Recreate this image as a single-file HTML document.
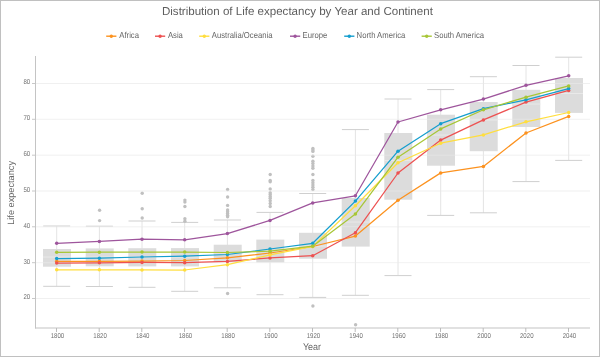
<!DOCTYPE html>
<html><head><meta charset="utf-8"><style>
html,body{margin:0;padding:0;background:#fff;}
.wrap{position:relative;width:600px;height:357px;overflow:hidden;}
svg{position:absolute;left:0;top:0;will-change:transform;}
text{font-family:"Liberation Sans",sans-serif;text-rendering:geometricPrecision;}
.ttl{font-size:11.55px;fill:#5e5e5e;}
.lg{font-size:8.6px;fill:#666;}
.ax{font-size:9.2px;fill:#666;}
.ax2{font-size:9.7px;fill:#666;}
.tk{font-size:7px;fill:#707070;}
</style></head><body><div class="wrap">
<svg width="600" height="357" viewBox="0 0 600 357">
<rect x="0" y="0" width="600" height="357" fill="#fff"/>
<g transform="translate(30.2,299.40) scale(0.87,1)"><text x="0" y="0" class="tk" text-anchor="end">20</text></g>
<line x1="32" x2="35" y1="298.5" y2="298.5" stroke="#c8c8c8" stroke-width="1"/>
<g transform="translate(30.2,263.57) scale(0.87,1)"><text x="0" y="0" class="tk" text-anchor="end">30</text></g>
<line x1="32" x2="35" y1="262.7" y2="262.7" stroke="#c8c8c8" stroke-width="1"/>
<g transform="translate(30.2,227.73) scale(0.87,1)"><text x="0" y="0" class="tk" text-anchor="end">40</text></g>
<line x1="32" x2="35" y1="226.8" y2="226.8" stroke="#c8c8c8" stroke-width="1"/>
<g transform="translate(30.2,191.90) scale(0.87,1)"><text x="0" y="0" class="tk" text-anchor="end">50</text></g>
<line x1="32" x2="35" y1="191.0" y2="191.0" stroke="#c8c8c8" stroke-width="1"/>
<g transform="translate(30.2,156.07) scale(0.87,1)"><text x="0" y="0" class="tk" text-anchor="end">60</text></g>
<line x1="32" x2="35" y1="155.2" y2="155.2" stroke="#c8c8c8" stroke-width="1"/>
<g transform="translate(30.2,120.24) scale(0.87,1)"><text x="0" y="0" class="tk" text-anchor="end">70</text></g>
<line x1="32" x2="35" y1="119.3" y2="119.3" stroke="#c8c8c8" stroke-width="1"/>
<g transform="translate(30.2,84.40) scale(0.87,1)"><text x="0" y="0" class="tk" text-anchor="end">80</text></g>
<line x1="32" x2="35" y1="83.5" y2="83.5" stroke="#c8c8c8" stroke-width="1"/>
<line x1="56.7" x2="56.7" y1="226.0" y2="286.3" stroke="#e4e4e4" stroke-width="1"/>
<line x1="43.2" x2="70.2" y1="226.0" y2="226.0" stroke="#cfcfcf" stroke-width="1"/>
<line x1="43.2" x2="70.2" y1="286.3" y2="286.3" stroke="#cfcfcf" stroke-width="1"/>
<rect x="43.0" y="249.0" width="28" height="17.7" fill="#dcdcdc"/>
<line x1="43.0" x2="71.0" y1="257.0" y2="257.0" stroke="#e9e9e9" stroke-width="1"/>
<line x1="99.4" x2="99.4" y1="226.2" y2="286.5" stroke="#e4e4e4" stroke-width="1"/>
<line x1="85.9" x2="112.9" y1="226.2" y2="226.2" stroke="#cfcfcf" stroke-width="1"/>
<line x1="85.9" x2="112.9" y1="286.5" y2="286.5" stroke="#cfcfcf" stroke-width="1"/>
<rect x="85.7" y="248.4" width="28" height="17.9" fill="#dcdcdc"/>
<line x1="85.7" x2="113.7" y1="257.0" y2="257.0" stroke="#e9e9e9" stroke-width="1"/>
<circle cx="99.6" cy="210.3" r="1.7" fill="#c0c0c0"/>
<circle cx="99.6" cy="220.6" r="1.7" fill="#c0c0c0"/>
<line x1="142.0" x2="142.0" y1="221.0" y2="287.3" stroke="#e4e4e4" stroke-width="1"/>
<line x1="128.5" x2="155.5" y1="221.0" y2="221.0" stroke="#cfcfcf" stroke-width="1"/>
<line x1="128.5" x2="155.5" y1="287.3" y2="287.3" stroke="#cfcfcf" stroke-width="1"/>
<rect x="128.3" y="248.2" width="28" height="18.2" fill="#dcdcdc"/>
<line x1="128.3" x2="156.3" y1="257.0" y2="257.0" stroke="#e9e9e9" stroke-width="1"/>
<circle cx="142.2" cy="193.3" r="1.7" fill="#c0c0c0"/>
<circle cx="142.2" cy="208.7" r="1.7" fill="#c0c0c0"/>
<circle cx="142.2" cy="218.0" r="1.7" fill="#c0c0c0"/>
<line x1="184.7" x2="184.7" y1="222.4" y2="291.3" stroke="#e4e4e4" stroke-width="1"/>
<line x1="171.2" x2="198.2" y1="222.4" y2="222.4" stroke="#cfcfcf" stroke-width="1"/>
<line x1="171.2" x2="198.2" y1="291.3" y2="291.3" stroke="#cfcfcf" stroke-width="1"/>
<rect x="171.0" y="248.1" width="28" height="18.3" fill="#dcdcdc"/>
<line x1="171.0" x2="199.0" y1="257.0" y2="257.0" stroke="#e9e9e9" stroke-width="1"/>
<circle cx="184.9" cy="200.1" r="1.7" fill="#c0c0c0"/>
<circle cx="184.9" cy="202.1" r="1.7" fill="#c0c0c0"/>
<circle cx="184.9" cy="206.5" r="1.7" fill="#c0c0c0"/>
<circle cx="184.9" cy="218.8" r="1.7" fill="#c0c0c0"/>
<circle cx="184.9" cy="221.2" r="1.7" fill="#c0c0c0"/>
<line x1="227.4" x2="227.4" y1="220.0" y2="287.8" stroke="#e4e4e4" stroke-width="1"/>
<line x1="213.9" x2="240.9" y1="220.0" y2="220.0" stroke="#cfcfcf" stroke-width="1"/>
<line x1="213.9" x2="240.9" y1="287.8" y2="287.8" stroke="#cfcfcf" stroke-width="1"/>
<rect x="213.7" y="244.7" width="28" height="17.3" fill="#dcdcdc"/>
<line x1="213.7" x2="241.7" y1="253.0" y2="253.0" stroke="#e9e9e9" stroke-width="1"/>
<circle cx="227.6" cy="189.5" r="1.7" fill="#c0c0c0"/>
<circle cx="227.6" cy="197.0" r="1.7" fill="#c0c0c0"/>
<circle cx="227.6" cy="205.4" r="1.7" fill="#c0c0c0"/>
<circle cx="227.6" cy="210.0" r="1.7" fill="#c0c0c0"/>
<circle cx="227.6" cy="211.8" r="1.7" fill="#c0c0c0"/>
<circle cx="227.6" cy="213.5" r="1.7" fill="#c0c0c0"/>
<circle cx="227.6" cy="215.2" r="1.7" fill="#c0c0c0"/>
<circle cx="227.6" cy="216.8" r="1.7" fill="#c0c0c0"/>
<circle cx="227.6" cy="293.5" r="1.7" fill="#c0c0c0"/>
<line x1="270.0" x2="270.0" y1="212.4" y2="294.7" stroke="#e4e4e4" stroke-width="1"/>
<line x1="256.5" x2="283.5" y1="212.4" y2="212.4" stroke="#cfcfcf" stroke-width="1"/>
<line x1="256.5" x2="283.5" y1="294.7" y2="294.7" stroke="#cfcfcf" stroke-width="1"/>
<rect x="256.3" y="239.6" width="28" height="22.8" fill="#dcdcdc"/>
<line x1="256.3" x2="284.3" y1="251.0" y2="251.0" stroke="#e9e9e9" stroke-width="1"/>
<circle cx="270.2" cy="174.5" r="1.7" fill="#c0c0c0"/>
<circle cx="270.2" cy="180.4" r="1.7" fill="#c0c0c0"/>
<circle cx="270.2" cy="181.7" r="1.7" fill="#c0c0c0"/>
<circle cx="270.2" cy="189.0" r="1.7" fill="#c0c0c0"/>
<circle cx="270.2" cy="192.7" r="1.7" fill="#c0c0c0"/>
<circle cx="270.2" cy="194.5" r="1.7" fill="#c0c0c0"/>
<circle cx="270.2" cy="196.4" r="1.7" fill="#c0c0c0"/>
<circle cx="270.2" cy="198.2" r="1.7" fill="#c0c0c0"/>
<circle cx="270.2" cy="200.7" r="1.7" fill="#c0c0c0"/>
<circle cx="270.2" cy="203.5" r="1.7" fill="#c0c0c0"/>
<circle cx="270.2" cy="206.5" r="1.7" fill="#c0c0c0"/>
<line x1="312.7" x2="312.7" y1="193.5" y2="297.4" stroke="#e4e4e4" stroke-width="1"/>
<line x1="299.2" x2="326.2" y1="193.5" y2="193.5" stroke="#cfcfcf" stroke-width="1"/>
<line x1="299.2" x2="326.2" y1="297.4" y2="297.4" stroke="#cfcfcf" stroke-width="1"/>
<rect x="299.0" y="232.8" width="28" height="25.9" fill="#dcdcdc"/>
<line x1="299.0" x2="327.0" y1="246.0" y2="246.0" stroke="#e9e9e9" stroke-width="1"/>
<circle cx="312.9" cy="148.5" r="1.7" fill="#c0c0c0"/>
<circle cx="312.9" cy="150.0" r="1.7" fill="#c0c0c0"/>
<circle cx="312.9" cy="151.4" r="1.7" fill="#c0c0c0"/>
<circle cx="312.9" cy="156.3" r="1.7" fill="#c0c0c0"/>
<circle cx="312.9" cy="161.2" r="1.7" fill="#c0c0c0"/>
<circle cx="312.9" cy="163.5" r="1.7" fill="#c0c0c0"/>
<circle cx="312.9" cy="165.9" r="1.7" fill="#c0c0c0"/>
<circle cx="312.9" cy="168.2" r="1.7" fill="#c0c0c0"/>
<circle cx="312.9" cy="174.5" r="1.7" fill="#c0c0c0"/>
<circle cx="312.9" cy="180.4" r="1.7" fill="#c0c0c0"/>
<circle cx="312.9" cy="182.7" r="1.7" fill="#c0c0c0"/>
<circle cx="312.9" cy="185.0" r="1.7" fill="#c0c0c0"/>
<circle cx="312.9" cy="187.3" r="1.7" fill="#c0c0c0"/>
<circle cx="312.9" cy="189.6" r="1.7" fill="#c0c0c0"/>
<circle cx="312.9" cy="306.0" r="1.7" fill="#c0c0c0"/>
<line x1="355.4" x2="355.4" y1="129.6" y2="295.3" stroke="#e4e4e4" stroke-width="1"/>
<line x1="341.9" x2="368.9" y1="129.6" y2="129.6" stroke="#cfcfcf" stroke-width="1"/>
<line x1="341.9" x2="368.9" y1="295.3" y2="295.3" stroke="#cfcfcf" stroke-width="1"/>
<rect x="341.7" y="198.0" width="28" height="48.6" fill="#dcdcdc"/>
<line x1="341.7" x2="369.7" y1="222.0" y2="222.0" stroke="#e9e9e9" stroke-width="1"/>
<circle cx="355.6" cy="324.8" r="1.7" fill="#c0c0c0"/>
<line x1="398.0" x2="398.0" y1="99.0" y2="275.6" stroke="#e4e4e4" stroke-width="1"/>
<line x1="384.5" x2="411.5" y1="99.0" y2="99.0" stroke="#cfcfcf" stroke-width="1"/>
<line x1="384.5" x2="411.5" y1="275.6" y2="275.6" stroke="#cfcfcf" stroke-width="1"/>
<rect x="384.3" y="133.0" width="28" height="66.7" fill="#dcdcdc"/>
<line x1="384.3" x2="412.3" y1="160.6" y2="160.6" stroke="#e9e9e9" stroke-width="1"/>
<line x1="440.7" x2="440.7" y1="89.6" y2="215.4" stroke="#e4e4e4" stroke-width="1"/>
<line x1="427.2" x2="454.2" y1="89.6" y2="89.6" stroke="#cfcfcf" stroke-width="1"/>
<line x1="427.2" x2="454.2" y1="215.4" y2="215.4" stroke="#cfcfcf" stroke-width="1"/>
<rect x="427.0" y="114.7" width="28" height="51.0" fill="#dcdcdc"/>
<line x1="427.0" x2="455.0" y1="135.0" y2="135.0" stroke="#e9e9e9" stroke-width="1"/>
<line x1="483.4" x2="483.4" y1="76.7" y2="212.8" stroke="#e4e4e4" stroke-width="1"/>
<line x1="469.9" x2="496.9" y1="76.7" y2="76.7" stroke="#cfcfcf" stroke-width="1"/>
<line x1="469.9" x2="496.9" y1="212.8" y2="212.8" stroke="#cfcfcf" stroke-width="1"/>
<rect x="469.7" y="102.0" width="28" height="49.2" fill="#dcdcdc"/>
<line x1="469.7" x2="497.7" y1="120.0" y2="120.0" stroke="#e9e9e9" stroke-width="1"/>
<line x1="526.0" x2="526.0" y1="65.5" y2="181.6" stroke="#e4e4e4" stroke-width="1"/>
<line x1="512.5" x2="539.5" y1="65.5" y2="65.5" stroke="#cfcfcf" stroke-width="1"/>
<line x1="512.5" x2="539.5" y1="181.6" y2="181.6" stroke="#cfcfcf" stroke-width="1"/>
<rect x="512.3" y="89.8" width="28" height="37.2" fill="#dcdcdc"/>
<line x1="512.3" x2="540.3" y1="104.0" y2="104.0" stroke="#e9e9e9" stroke-width="1"/>
<line x1="568.7" x2="568.7" y1="57.2" y2="160.4" stroke="#e4e4e4" stroke-width="1"/>
<line x1="555.2" x2="582.2" y1="57.2" y2="57.2" stroke="#cfcfcf" stroke-width="1"/>
<line x1="555.2" x2="582.2" y1="160.4" y2="160.4" stroke="#cfcfcf" stroke-width="1"/>
<rect x="555.0" y="78.0" width="28" height="34.9" fill="#dcdcdc"/>
<line x1="555.0" x2="583.0" y1="93.5" y2="93.5" stroke="#e9e9e9" stroke-width="1"/>
<line x1="35" x2="590" y1="298.5" y2="298.5" stroke="#e8e8e8" stroke-width="0.8" opacity="0.8"/>
<line x1="35" x2="590" y1="262.7" y2="262.7" stroke="#e8e8e8" stroke-width="0.8" opacity="0.8"/>
<line x1="35" x2="590" y1="226.8" y2="226.8" stroke="#e8e8e8" stroke-width="0.8" opacity="0.8"/>
<line x1="35" x2="590" y1="191.0" y2="191.0" stroke="#e8e8e8" stroke-width="0.8" opacity="0.8"/>
<line x1="35" x2="590" y1="155.2" y2="155.2" stroke="#e8e8e8" stroke-width="0.8" opacity="0.8"/>
<line x1="35" x2="590" y1="119.3" y2="119.3" stroke="#e8e8e8" stroke-width="0.8" opacity="0.8"/>
<line x1="35" x2="590" y1="83.5" y2="83.5" stroke="#e8e8e8" stroke-width="0.8" opacity="0.8"/>
<line x1="35.5" x2="35.5" y1="56" y2="328.5" stroke="#c4c4c4" stroke-width="1"/>
<line x1="35" x2="590" y1="328" y2="328" stroke="#c4c4c4" stroke-width="1.2"/>
<line x1="56.5" x2="56.5" y1="328" y2="332" stroke="#bbb" stroke-width="1"/>
<g transform="translate(57.40,338.1) scale(0.87,1)"><text x="0" y="0" class="tk" text-anchor="middle">1800</text></g>
<line x1="99.2" x2="99.2" y1="328" y2="332" stroke="#bbb" stroke-width="1"/>
<g transform="translate(100.07,338.1) scale(0.87,1)"><text x="0" y="0" class="tk" text-anchor="middle">1820</text></g>
<line x1="141.8" x2="141.8" y1="328" y2="332" stroke="#bbb" stroke-width="1"/>
<g transform="translate(142.73,338.1) scale(0.87,1)"><text x="0" y="0" class="tk" text-anchor="middle">1840</text></g>
<line x1="184.5" x2="184.5" y1="328" y2="332" stroke="#bbb" stroke-width="1"/>
<g transform="translate(185.40,338.1) scale(0.87,1)"><text x="0" y="0" class="tk" text-anchor="middle">1860</text></g>
<line x1="227.2" x2="227.2" y1="328" y2="332" stroke="#bbb" stroke-width="1"/>
<g transform="translate(228.07,338.1) scale(0.87,1)"><text x="0" y="0" class="tk" text-anchor="middle">1880</text></g>
<line x1="269.8" x2="269.8" y1="328" y2="332" stroke="#bbb" stroke-width="1"/>
<g transform="translate(270.74,338.1) scale(0.87,1)"><text x="0" y="0" class="tk" text-anchor="middle">1900</text></g>
<line x1="312.5" x2="312.5" y1="328" y2="332" stroke="#bbb" stroke-width="1"/>
<g transform="translate(313.40,338.1) scale(0.87,1)"><text x="0" y="0" class="tk" text-anchor="middle">1920</text></g>
<line x1="355.2" x2="355.2" y1="328" y2="332" stroke="#bbb" stroke-width="1"/>
<g transform="translate(356.07,338.1) scale(0.87,1)"><text x="0" y="0" class="tk" text-anchor="middle">1940</text></g>
<line x1="397.8" x2="397.8" y1="328" y2="332" stroke="#bbb" stroke-width="1"/>
<g transform="translate(398.74,338.1) scale(0.87,1)"><text x="0" y="0" class="tk" text-anchor="middle">1960</text></g>
<line x1="440.5" x2="440.5" y1="328" y2="332" stroke="#bbb" stroke-width="1"/>
<g transform="translate(441.40,338.1) scale(0.87,1)"><text x="0" y="0" class="tk" text-anchor="middle">1980</text></g>
<line x1="483.2" x2="483.2" y1="328" y2="332" stroke="#bbb" stroke-width="1"/>
<g transform="translate(484.07,338.1) scale(0.87,1)"><text x="0" y="0" class="tk" text-anchor="middle">2000</text></g>
<line x1="525.8" x2="525.8" y1="328" y2="332" stroke="#bbb" stroke-width="1"/>
<g transform="translate(526.74,338.1) scale(0.87,1)"><text x="0" y="0" class="tk" text-anchor="middle">2020</text></g>
<line x1="568.5" x2="568.5" y1="328" y2="332" stroke="#bbb" stroke-width="1"/>
<g transform="translate(569.40,338.1) scale(0.87,1)"><text x="0" y="0" class="tk" text-anchor="middle">2040</text></g>
<polyline points="56.7,261.3 99.4,261.3 142.0,261.1 184.7,260.5 227.4,257.8 270.0,253.0 312.7,246.5 355.4,236.1 398.0,200.3 440.7,172.9 483.4,166.4 526.0,133.0 568.7,116.4" fill="none" stroke="#fc921f" stroke-width="1.25" stroke-linejoin="round"/>
<circle cx="56.7" cy="261.3" r="1.75" fill="#fc921f"/>
<circle cx="99.4" cy="261.3" r="1.75" fill="#fc921f"/>
<circle cx="142.0" cy="261.1" r="1.75" fill="#fc921f"/>
<circle cx="184.7" cy="260.5" r="1.75" fill="#fc921f"/>
<circle cx="227.4" cy="257.8" r="1.75" fill="#fc921f"/>
<circle cx="270.0" cy="253.0" r="1.75" fill="#fc921f"/>
<circle cx="312.7" cy="246.5" r="1.75" fill="#fc921f"/>
<circle cx="355.4" cy="236.1" r="1.75" fill="#fc921f"/>
<circle cx="398.0" cy="200.3" r="1.75" fill="#fc921f"/>
<circle cx="440.7" cy="172.9" r="1.75" fill="#fc921f"/>
<circle cx="483.4" cy="166.4" r="1.75" fill="#fc921f"/>
<circle cx="526.0" cy="133.0" r="1.75" fill="#fc921f"/>
<circle cx="568.7" cy="116.4" r="1.75" fill="#fc921f"/>
<polyline points="56.7,263.0 99.4,262.8 142.0,262.4 184.7,262.7 227.4,261.4 270.0,257.9 312.7,255.7 355.4,232.7 398.0,173.0 440.7,140.1 483.4,119.9 526.0,102.1 568.7,90.4" fill="none" stroke="#ed5151" stroke-width="1.25" stroke-linejoin="round"/>
<circle cx="56.7" cy="263.0" r="1.75" fill="#ed5151"/>
<circle cx="99.4" cy="262.8" r="1.75" fill="#ed5151"/>
<circle cx="142.0" cy="262.4" r="1.75" fill="#ed5151"/>
<circle cx="184.7" cy="262.7" r="1.75" fill="#ed5151"/>
<circle cx="227.4" cy="261.4" r="1.75" fill="#ed5151"/>
<circle cx="270.0" cy="257.9" r="1.75" fill="#ed5151"/>
<circle cx="312.7" cy="255.7" r="1.75" fill="#ed5151"/>
<circle cx="355.4" cy="232.7" r="1.75" fill="#ed5151"/>
<circle cx="398.0" cy="173.0" r="1.75" fill="#ed5151"/>
<circle cx="440.7" cy="140.1" r="1.75" fill="#ed5151"/>
<circle cx="483.4" cy="119.9" r="1.75" fill="#ed5151"/>
<circle cx="526.0" cy="102.1" r="1.75" fill="#ed5151"/>
<circle cx="568.7" cy="90.4" r="1.75" fill="#ed5151"/>
<polyline points="56.7,269.8 99.4,269.8 142.0,269.9 184.7,270.0 227.4,264.7 270.0,254.9 312.7,246.4 355.4,205.8 398.0,162.8 440.7,143.2 483.4,134.9 526.0,121.8 568.7,112.5" fill="none" stroke="#ffde3e" stroke-width="1.25" stroke-linejoin="round"/>
<circle cx="56.7" cy="269.8" r="1.75" fill="#ffde3e"/>
<circle cx="99.4" cy="269.8" r="1.75" fill="#ffde3e"/>
<circle cx="142.0" cy="269.9" r="1.75" fill="#ffde3e"/>
<circle cx="184.7" cy="270.0" r="1.75" fill="#ffde3e"/>
<circle cx="227.4" cy="264.7" r="1.75" fill="#ffde3e"/>
<circle cx="270.0" cy="254.9" r="1.75" fill="#ffde3e"/>
<circle cx="312.7" cy="246.4" r="1.75" fill="#ffde3e"/>
<circle cx="355.4" cy="205.8" r="1.75" fill="#ffde3e"/>
<circle cx="398.0" cy="162.8" r="1.75" fill="#ffde3e"/>
<circle cx="440.7" cy="143.2" r="1.75" fill="#ffde3e"/>
<circle cx="483.4" cy="134.9" r="1.75" fill="#ffde3e"/>
<circle cx="526.0" cy="121.8" r="1.75" fill="#ffde3e"/>
<circle cx="568.7" cy="112.5" r="1.75" fill="#ffde3e"/>
<polyline points="56.7,243.3 99.4,241.4 142.0,239.2 184.7,239.8 227.4,233.6 270.0,220.4 312.7,202.9 355.4,195.8 398.0,122.0 440.7,109.8 483.4,99.1 526.0,85.3 568.7,75.8" fill="none" stroke="#9e559c" stroke-width="1.25" stroke-linejoin="round"/>
<circle cx="56.7" cy="243.3" r="1.75" fill="#9e559c"/>
<circle cx="99.4" cy="241.4" r="1.75" fill="#9e559c"/>
<circle cx="142.0" cy="239.2" r="1.75" fill="#9e559c"/>
<circle cx="184.7" cy="239.8" r="1.75" fill="#9e559c"/>
<circle cx="227.4" cy="233.6" r="1.75" fill="#9e559c"/>
<circle cx="270.0" cy="220.4" r="1.75" fill="#9e559c"/>
<circle cx="312.7" cy="202.9" r="1.75" fill="#9e559c"/>
<circle cx="355.4" cy="195.8" r="1.75" fill="#9e559c"/>
<circle cx="398.0" cy="122.0" r="1.75" fill="#9e559c"/>
<circle cx="440.7" cy="109.8" r="1.75" fill="#9e559c"/>
<circle cx="483.4" cy="99.1" r="1.75" fill="#9e559c"/>
<circle cx="526.0" cy="85.3" r="1.75" fill="#9e559c"/>
<circle cx="568.7" cy="75.8" r="1.75" fill="#9e559c"/>
<polyline points="56.7,258.6 99.4,258.2 142.0,257.0 184.7,256.2 227.4,254.5 270.0,249.0 312.7,243.3 355.4,201.1 398.0,151.2 440.7,123.7 483.4,108.7 526.0,99.8 568.7,88.6" fill="none" stroke="#149ece" stroke-width="1.25" stroke-linejoin="round"/>
<circle cx="56.7" cy="258.6" r="1.75" fill="#149ece"/>
<circle cx="99.4" cy="258.2" r="1.75" fill="#149ece"/>
<circle cx="142.0" cy="257.0" r="1.75" fill="#149ece"/>
<circle cx="184.7" cy="256.2" r="1.75" fill="#149ece"/>
<circle cx="227.4" cy="254.5" r="1.75" fill="#149ece"/>
<circle cx="270.0" cy="249.0" r="1.75" fill="#149ece"/>
<circle cx="312.7" cy="243.3" r="1.75" fill="#149ece"/>
<circle cx="355.4" cy="201.1" r="1.75" fill="#149ece"/>
<circle cx="398.0" cy="151.2" r="1.75" fill="#149ece"/>
<circle cx="440.7" cy="123.7" r="1.75" fill="#149ece"/>
<circle cx="483.4" cy="108.7" r="1.75" fill="#149ece"/>
<circle cx="526.0" cy="99.8" r="1.75" fill="#149ece"/>
<circle cx="568.7" cy="88.6" r="1.75" fill="#149ece"/>
<polyline points="56.7,252.3 99.4,252.2 142.0,252.1 184.7,252.1 227.4,252.5 270.0,251.2 312.7,246.2 355.4,214.1 398.0,157.2 440.7,128.9 483.4,109.8 526.0,97.2 568.7,85.9" fill="none" stroke="#a7c636" stroke-width="1.25" stroke-linejoin="round"/>
<circle cx="56.7" cy="252.3" r="1.75" fill="#a7c636"/>
<circle cx="99.4" cy="252.2" r="1.75" fill="#a7c636"/>
<circle cx="142.0" cy="252.1" r="1.75" fill="#a7c636"/>
<circle cx="184.7" cy="252.1" r="1.75" fill="#a7c636"/>
<circle cx="227.4" cy="252.5" r="1.75" fill="#a7c636"/>
<circle cx="270.0" cy="251.2" r="1.75" fill="#a7c636"/>
<circle cx="312.7" cy="246.2" r="1.75" fill="#a7c636"/>
<circle cx="355.4" cy="214.1" r="1.75" fill="#a7c636"/>
<circle cx="398.0" cy="157.2" r="1.75" fill="#a7c636"/>
<circle cx="440.7" cy="128.9" r="1.75" fill="#a7c636"/>
<circle cx="483.4" cy="109.8" r="1.75" fill="#a7c636"/>
<circle cx="526.0" cy="97.2" r="1.75" fill="#a7c636"/>
<circle cx="568.7" cy="85.9" r="1.75" fill="#a7c636"/>
<line x1="106.2" x2="116.4" y1="36.2" y2="36.2" stroke="#fc921f" stroke-width="1.4"/>
<circle cx="111.3" cy="36.2" r="1.7" fill="#fc921f"/>
<g transform="translate(119.3,37.9) scale(0.895,1)"><text x="0" y="0" class="lg">Africa</text></g>
<line x1="155" x2="165.2" y1="36.2" y2="36.2" stroke="#ed5151" stroke-width="1.4"/>
<circle cx="160.1" cy="36.2" r="1.7" fill="#ed5151"/>
<g transform="translate(167.9,37.9) scale(0.895,1)"><text x="0" y="0" class="lg">Asia</text></g>
<line x1="199.2" x2="209.39999999999998" y1="36.2" y2="36.2" stroke="#ffde3e" stroke-width="1.4"/>
<circle cx="204.29999999999998" cy="36.2" r="1.7" fill="#ffde3e"/>
<g transform="translate(211.79999999999998,37.9) scale(0.895,1)"><text x="0" y="0" class="lg">Australia/Oceania</text></g>
<line x1="290" x2="300.2" y1="36.2" y2="36.2" stroke="#9e559c" stroke-width="1.4"/>
<circle cx="295.1" cy="36.2" r="1.7" fill="#9e559c"/>
<g transform="translate(302.6,37.9) scale(0.895,1)"><text x="0" y="0" class="lg">Europe</text></g>
<line x1="344.2" x2="354.4" y1="36.2" y2="36.2" stroke="#149ece" stroke-width="1.4"/>
<circle cx="349.3" cy="36.2" r="1.7" fill="#149ece"/>
<g transform="translate(356.6,37.9) scale(0.895,1)"><text x="0" y="0" class="lg">North America</text></g>
<line x1="421.6" x2="431.8" y1="36.2" y2="36.2" stroke="#a7c636" stroke-width="1.4"/>
<circle cx="426.70000000000005" cy="36.2" r="1.7" fill="#a7c636"/>
<g transform="translate(434.0,37.9) scale(0.895,1)"><text x="0" y="0" class="lg">South America</text></g>
<text x="297.4" y="15.2" class="ttl" text-anchor="middle">Distribution of Life expectancy by Year and Continent</text>
<g transform="translate(312,350.1) scale(0.928,1)"><text x="0" y="0" class="ax2" text-anchor="middle">Year</text></g>
<text transform="translate(13.8,192.9) rotate(-90)" x="0" y="0" class="ax" text-anchor="middle">Life expectancy</text>
<rect x="0.5" y="0.5" width="599" height="356" fill="none" stroke="#c0c0c0" stroke-width="1"/>
</svg></div></body></html>
